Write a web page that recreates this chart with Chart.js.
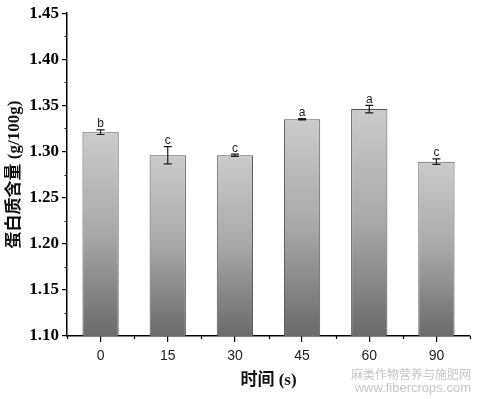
<!DOCTYPE html>
<html>
<head>
<meta charset="utf-8">
<script src="https://cdn.jsdelivr.net/npm/chart.js@4/dist/chart.umd.min.js"></script>
<style>
  html, body { margin: 0; padding: 0; background: #ffffff; }
  #wrap { width: 477px; height: 399px; position: relative; }
</style>
</head>
<body>
<div id="wrap"><canvas id="c" width="477" height="399"></canvas></div>
<script>
const categories = ['0', '15', '30', '45', '60', '90'];
const proteinValues = [1.321, 1.296, 1.296, 1.335, 1.346, 1.289];
const errorValues = [0.0025, 0.0094, 0.0013, 0.0006, 0.004, 0.003];
const letters = ['b', 'c', 'c', 'a', 'a', 'c'];
const yMin = 1.10, yMax = 1.45, yStep = 0.05;
const xTitle = '时间 (s)';
const yTitle = '蛋白质含量 (g/100g)';
const watermark = ['麻类作物营养与施肥网', 'www.fibercrops.com'];

function barGradient(ctx) {
  const chart = ctx.chart;
  const area = chart.chartArea;
  if (!area || ctx.type !== 'data') return '#999';
  const y = chart.scales.y;
  const top = y.getPixelForValue(ctx.raw);
  const g = chart.ctx.createLinearGradient(0, top, 0, area.bottom);
  g.addColorStop(0, '#cbcbcb');
  g.addColorStop(0.5, '#a8a8a8');
  g.addColorStop(1, '#6a6a6a');
  return g;
}

const extras = {
  id: 'extras',
  afterDatasetsDraw(chart) {
    const ctx = chart.ctx;
    const x = chart.scales.x, y = chart.scales.y;
    const area = chart.chartArea;
    ctx.save();
    // error bars + letters
    proteinValues.forEach((v, i) => {
      const cx = x.getPixelForValue(i);
      const yt = y.getPixelForValue(v + errorValues[i]);
      const yb = y.getPixelForValue(v - errorValues[i]);
      ctx.strokeStyle = '#1a1a1a';
      ctx.lineWidth = 1.2;
      ctx.beginPath();
      ctx.moveTo(cx, yt); ctx.lineTo(cx, yb);
      ctx.moveTo(cx - 4, yt); ctx.lineTo(cx + 4, yt);
      ctx.moveTo(cx - 4, yb); ctx.lineTo(cx + 4, yb);
      ctx.stroke();
      ctx.fillStyle = '#222';
      ctx.font = '12px "Liberation Sans", Arial, sans-serif';
      ctx.textAlign = 'center';
      ctx.textBaseline = 'alphabetic';
      ctx.fillText(letters[i], cx, yt - 2.5);
    });
    ctx.restore();
  },
  afterDraw(chart) {
    const ctx = chart.ctx;
    const x = chart.scales.x, y = chart.scales.y;
    const area = chart.chartArea;
    ctx.save();
    ctx.strokeStyle = '#000';
    ctx.lineWidth = 1.2;
    ctx.beginPath();
    // y minor ticks
    for (let k = 0; k < Math.round((yMax - yMin) / yStep); k++) {
      const py = Math.round(y.getPixelForValue(yMin + yStep * (k + 0.5))) + 0.5;
      ctx.moveTo(area.left - 2.5, py); ctx.lineTo(area.left, py);
    }
    // x minor ticks at category boundaries
    for (let i = 0; i <= categories.length; i++) {
      const px = Math.round(x.getPixelForValue(i - 0.5)) + 0.5;
      ctx.moveTo(px, area.bottom); ctx.lineTo(px, area.bottom + 3);
    }
    ctx.stroke();
    // watermark
    ctx.fillStyle = '#c6c6c6';
    ctx.textAlign = 'right';
    ctx.textBaseline = 'middle';
    ctx.font = '12px "Noto Sans CJK SC", sans-serif';
    ctx.fillText(watermark[0], 471, 374);
    ctx.font = '13px "Liberation Sans", Arial, sans-serif';
    ctx.fillText(watermark[1], 471, 388);
    ctx.restore();
  }
};

new Chart(document.getElementById('c'), {
  type: 'bar',
  data: {
    labels: categories,
    datasets: [{
      data: proteinValues,
      backgroundColor: barGradient,
      borderColor: '#555555',
      borderWidth: 1,
      borderSkipped: 'start',
      barPercentage: 0.54,
      categoryPercentage: 1.0
    }]
  },
  options: {
    responsive: false,
    animation: false,
    devicePixelRatio: 1,
    layout: { padding: { left: 0, right: 7, top: 11, bottom: 0 } },
    plugins: { legend: { display: false }, tooltip: { enabled: false } },
    scales: {
      x: {
        offset: true,
        grid: { display: true, drawOnChartArea: false, offset: false, tickLength: 6, color: '#000', lineWidth: 1.2 },
        border: { display: true, color: '#000', width: 1.5 },
        ticks: { color: '#222', padding: 6, font: { family: '"Liberation Sans", Arial, sans-serif', size: 14 } },
        title: {
          display: true, text: xTitle, color: '#111',
          font: { family: '"Liberation Serif", "Noto Sans CJK SC", serif', size: 17, weight: 'bold' },
          padding: { top: 0, bottom: 8 }
        },
        afterFit(scale) { scale.height = 63; }
      },
      y: {
        min: yMin, max: yMax,
        grid: { display: true, drawOnChartArea: false, tickLength: 5, color: '#000', lineWidth: 1.2 },
        border: { display: true, color: '#000', width: 1.5 },
        ticks: {
          stepSize: yStep, color: '#000', padding: 3,
          font: { family: '"Liberation Serif", "Times New Roman", serif', size: 17, weight: 'bold' },
          callback: (v) => v.toFixed(2)
        },
        title: {
          display: true, text: yTitle, color: '#111',
          font: { family: '"Liberation Serif", "Noto Sans CJK SC", serif', size: 17, weight: 'bold' },
          padding: { top: 4, bottom: 0 }
        },
        afterFit(scale) { scale.width = 67; }
      }
    }
  },
  plugins: [extras]
});
</script>
</body>
</html>
